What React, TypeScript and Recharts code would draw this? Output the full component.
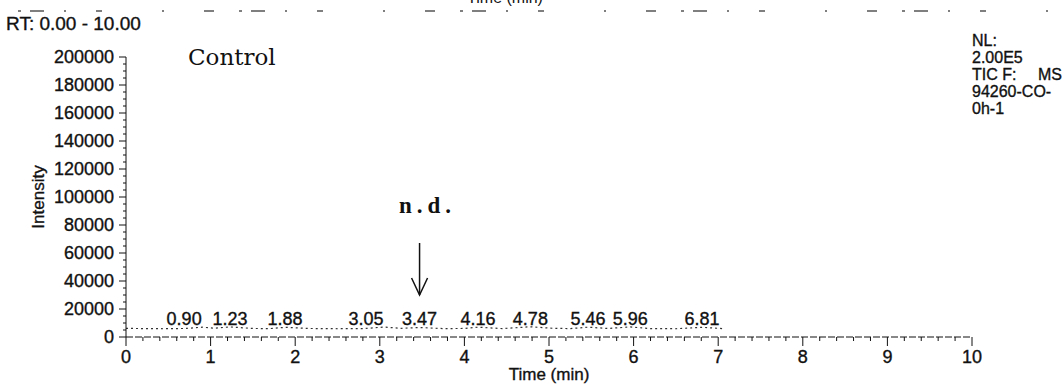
import React from "react";
import { ComposedChart, Line, Scatter, XAxis, YAxis, ReferenceDot } from "recharts";

// TIC trace (time in min, intensity in counts)
const traceTime = [0, 0.2, 0.45, 0.7, 0.9, 1.05, 1.23, 1.5, 1.7, 1.88, 2.15, 2.5, 2.8, 3.05, 3.25, 3.47, 3.75, 4.0, 4.16, 4.45, 4.78, 5.05, 5.25, 5.46, 5.7, 5.96, 6.2, 6.5, 6.81, 7.05];
const traceIntensity = [6200, 6000, 5900, 6100, 7000, 6300, 7200, 6100, 6000, 6900, 6100, 5900, 6000, 7100, 6200, 6800, 6000, 6100, 7000, 6000, 7300, 6200, 6000, 7000, 6100, 7200, 6000, 5900, 6900, 6000];

// labelled retention times
const peakTimes = [0.9, 1.23, 1.88, 3.05, 3.47, 4.16, 4.78, 5.46, 5.96, 6.81];
const peakIntensity = [7000, 7200, 6900, 7100, 6800, 7000, 7300, 7000, 7200, 6900];

const xMajorTicks = [0, 1, 2, 3, 4, 5, 6, 7, 8, 9, 10];
const yMajorTicks = [0, 20000, 40000, 60000, 80000, 100000, 120000, 140000, 160000, 180000, 200000];

const ndTime = 3.47;
const ndArrowTip = 30000;

const infoLines = ["NL:", "2.00E5", "TIC F:", "94260-CO-", "0h-1"];

const trace = traceTime.map((t, i) => ({ t, v: traceIntensity[i] }));
const peaks = peakTimes.map((t, i) => ({ t, v: peakIntensity[i] }));

// minor ticks every 0.2 min / 5000 counts
const xTicks = Array.from({ length: 51 }, (_, i) => Math.round(i * 2) / 10);
const yTicks = Array.from({ length: 41 }, (_, i) => i * 5000);

const SANS = "'Liberation Sans', Arial, sans-serif";
const INK = "#111";
// slightly heavier glyphs, like a photocopied printout
const heavy = { stroke: INK, strokeWidth: 0.35 };

function TimeTick(props: any) {
  const { x, y, payload } = props;
  const major = xMajorTicks.includes(payload.value);
  return (
    <g>
      <line x1={x} x2={x} y1={y} y2={y + (major ? 9 : 4)} stroke={INK} strokeWidth={1} />
      {major && (
        <text x={x} y={y + 26} textAnchor="middle" fontFamily={SANS} fontSize={18} fill={INK} {...heavy}>
          {payload.value}
        </text>
      )}
    </g>
  );
}

function IntensityTick(props: any) {
  const { x, y, payload } = props;
  const major = yMajorTicks.includes(payload.value);
  return (
    <g>
      <line x1={x} x2={x - (major ? 7 : 3)} y1={y} y2={y} stroke={INK} strokeWidth={1} />
      {major && (
        <text x={x - 12} y={y + 6} textAnchor="end" fontFamily={SANS} fontSize={18} fill={INK} {...heavy}>
          {payload.value}
        </text>
      )}
    </g>
  );
}

function PeakLabel(props: any) {
  const { cx, cy, payload } = props;
  const next = peakTimes.find((t) => t > payload.t);
  // crowded labels get pushed left
  const nudge = next !== undefined && next - payload.t < 0.45 ? -18 : 0;
  return (
    <text x={cx + nudge} y={cy - 2} textAnchor="middle" fontFamily={SANS} fontSize={18} fill={INK} {...heavy}>
      {payload.t.toFixed(2)}
    </text>
  );
}

function NdArrow(props: any) {
  const { cx, cy } = props;
  return (
    <g stroke={INK} strokeWidth={1.5} fill="none">
      <line x1={cx} x2={cx} y1={cy - 52} y2={cy} />
      <polyline points={`${cx - 8},${cy - 17} ${cx},${cy} ${cx + 8},${cy - 17}`} />
      <text
        x={cx + 8}
        y={cy - 82}
        textAnchor="middle"
        fontFamily="'Liberation Serif', 'DejaVu Serif', serif"
        fontWeight="bold"
        fontSize={23}
        letterSpacing={5}
        fill={INK}
        stroke="none"
      >
        n.d.
      </text>
    </g>
  );
}

export default function App() {
  return (
    <div style={{ position: "absolute", left: 0, top: 0, width: 1062, height: 388, background: "#fff" }}>
      <ComposedChart width={1062} height={388} margin={{ top: 57, right: 90, bottom: 6, left: 0 }}>
        <XAxis
          dataKey="t"
          type="number"
          domain={[0, 10]}
          ticks={xTicks}
          interval={0}
          height={45}
          tickSize={0}
          tickMargin={0}
          tickLine={false}
          tick={<TimeTick />}
          axisLine={{ stroke: INK, strokeDasharray: "7 2" }}
          label={{
            content: (p: any) => (
              <text
                x={p.viewBox.x + p.viewBox.width / 2}
                y={p.viewBox.y + 43}
                textAnchor="middle"
                fontFamily={SANS}
                fontSize={17}
                fill={INK}
                {...heavy}
              >
                Time (min)
              </text>
            ),
          }}
        />
        <YAxis
          type="number"
          domain={[0, 200000]}
          ticks={yTicks}
          interval={0}
          width={126}
          tickSize={0}
          tickMargin={0}
          tickLine={false}
          tick={<IntensityTick />}
          axisLine={{ stroke: INK }}
          label={{
            content: (p: any) => (
              <text
                x={44}
                y={p.viewBox.y + p.viewBox.height / 2}
                transform={`rotate(-90 44 ${p.viewBox.y + p.viewBox.height / 2})`}
                textAnchor="middle"
                fontFamily={SANS}
                fontSize={17}
                fill={INK}
                {...heavy}
              >
                Intensity
              </text>
            ),
          }}
        />
        <Line
          data={trace}
          dataKey="v"
          type="linear"
          stroke="#333"
          strokeWidth={1.2}
          strokeDasharray="2 3"
          dot={false}
          isAnimationActive={false}
        />
        <Scatter data={peaks} dataKey="v" shape={<PeakLabel />} isAnimationActive={false} />
        <ReferenceDot x={ndTime} y={ndArrowTip} shape={<NdArrow />} />
      </ComposedChart>

      <svg width={1062} height={388} style={{ position: "absolute", left: 0, top: 0, pointerEvents: "none" }}>
        <text x={505} y={3} textAnchor="middle" fontFamily={SANS} fontSize={16} fill={INK}>
          Time (min)
        </text>
        <line x1={18} x2={1058} y1={11} y2={11} stroke="#555" strokeWidth={1.5} strokeDasharray="3 9 14 20 2 30 6 60 2 40 10 25" />
        <text x={6} y={30} fontFamily={SANS} fontSize={19} fill={INK} {...heavy}>
          RT: 0.00 - 10.00
        </text>
        <text x={188} y={65} fontFamily="'DejaVu Serif', 'Liberation Serif', serif" fontSize={23} fill={INK}>
          Control
        </text>
        {infoLines.map((s, i) => (
          <text key={s} x={972} y={46 + i * 17} fontFamily={SANS} fontSize={16} fill={INK} {...heavy}>
            {s}
          </text>
        ))}
        <text x={1038} y={80} fontFamily={SANS} fontSize={16} fill={INK} {...heavy}>
          MS
        </text>
      </svg>
    </div>
  );
}
